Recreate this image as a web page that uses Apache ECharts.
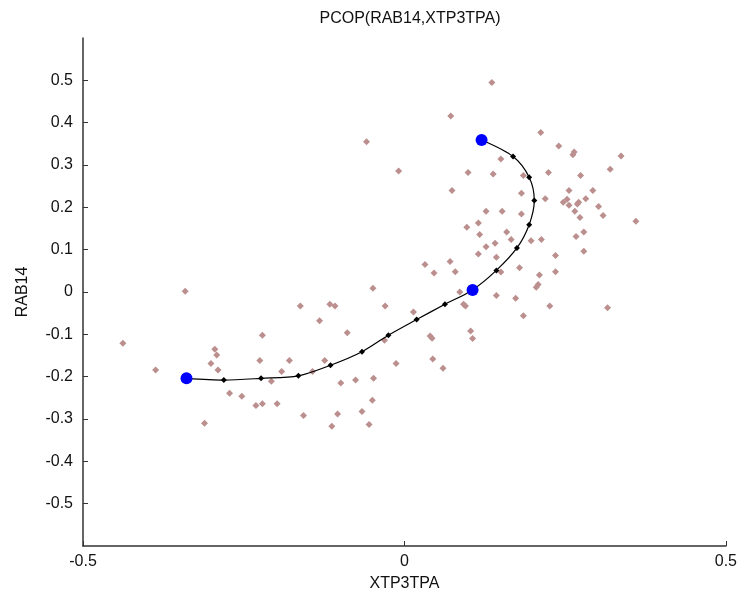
<!DOCTYPE html>
<html>
<head>
<meta charset="utf-8">
<script src="https://cdn.jsdelivr.net/npm/echarts@6/dist/echarts.min.js"></script>
<style>
  html, body { margin: 0; padding: 0; background: #fff; }
  #main { width: 740px; height: 598px; }
</style>
</head>
<body>
<div id="main"></div>
<script>
// cloud of samples (XTP3TPA, RAB14)
var cloudX = [-0.059, -0.009, -0.341, -0.049, 0.136, 0.072, 0.212, 0.240, 0.264, 0.262,
  0.337, 0.150, 0.320, 0.099, 0.138, 0.185, 0.224, 0.274, 0.074, 0.182,
  0.256, 0.293, 0.219, 0.247, 0.253, 0.256, 0.269, 0.271, 0.282, 0.265,
  0.302, 0.309, 0.360, 0.127, 0.152, 0.182, 0.273, 0.097, 0.115, 0.117,
  0.159, 0.166, 0.141, 0.127, 0.197, 0.213, 0.267, 0.279, 0.115, 0.143,
  0.279, 0.235, 0.071, 0.032, 0.046, 0.079, 0.179, 0.235, 0.210, 0.208,
  0.205, 0.086, 0.143, 0.173, 0.092, 0.095, 0.226, 0.185, 0.316, 0.014,
  0.040, 0.043, 0.103, 0.106, 0.044, 0.060, -0.438, -0.387, -0.295, -0.292,
  -0.301, -0.290, -0.221, -0.225, -0.179, -0.191, -0.207, -0.272, -0.253, -0.311,
  -0.231, -0.221, -0.198, -0.162, -0.132, -0.116, -0.108, -0.030, -0.089, -0.124,
  -0.143, -0.099, -0.076, -0.048, -0.050, -0.066, -0.055, -0.104, -0.113, -0.157,
  -0.031, -0.013, 0.150];
var cloudY = [0.355, 0.286, 0.002, 0.009, 0.495, 0.416, 0.377, 0.345, 0.331, 0.324,
  0.321, 0.314, 0.290, 0.282, 0.279, 0.275, 0.282, 0.275, 0.240, 0.233,
  0.240, 0.240, 0.220, 0.212, 0.219, 0.205, 0.208, 0.212, 0.220, 0.191,
  0.202, 0.181, 0.167, 0.191, 0.191, 0.184, 0.176, 0.153, 0.163, 0.136,
  0.142, 0.124, 0.115, 0.107, 0.121, 0.124, 0.131, 0.142, 0.090, 0.082,
  0.096, 0.086, 0.072, 0.065, 0.045, 0.048, 0.057, 0.048, 0.040, 0.018,
  0.011, 0.000, -0.008, -0.015, -0.029, -0.033, -0.033, -0.056, -0.037, -0.047,
  -0.104, -0.109, -0.092, -0.110, -0.158, -0.180, -0.121, -0.184, -0.135, -0.149,
  -0.169, -0.184, -0.102, -0.162, -0.162, -0.188, -0.211, -0.239, -0.246, -0.310,
  -0.268, -0.264, -0.264, -0.033, -0.068, -0.029, -0.033, -0.033, -0.096, -0.162,
  -0.188, -0.215, -0.208, -0.204, -0.256, -0.282, -0.313, -0.288, -0.317, -0.292,
  -0.114, -0.169, 0.047];

// principal curve
var curveX = [-0.339, -0.281, -0.223, -0.165, -0.115, -0.066, -0.025, 0.019, 0.063,
  0.106, 0.143, 0.175, 0.194, 0.202, 0.194, 0.169, 0.120];
var curveY = [-0.204, -0.208, -0.204, -0.198, -0.173, -0.141, -0.102, -0.065, -0.029,
  0.005, 0.051, 0.104, 0.159, 0.216, 0.271, 0.320, 0.359];

// highlighted nodes (ends + middle)
var nodeX = [-0.339, 0.106, 0.120];
var nodeY = [-0.204, 0.005, 0.359];

function pairs(xs, ys) {
  var out = [];
  for (var i = 0; i < xs.length; i++) out.push([xs[i], ys[i]]);
  return out;
}

var font = 'Liberation Sans';
var chart = echarts.init(document.getElementById('main'));
var option = {
  animation: false,
  title: {
    text: 'PCOP(RAB14,XTP3TPA)',
    left: 405,
    top: 6,
    textAlign: 'center',
    textStyle: { fontFamily: font, fontSize: 16, fontWeight: 'normal', color: '#111' }
  },
  grid: { left: 83, right: 13, top: 38, bottom: 52 },
  xAxis: {
    type: 'value',
    min: -0.5,
    max: 0.5,
    interval: 0.5,
    name: 'XTP3TPA',
    nameLocation: 'middle',
    nameGap: 30,
    nameTextStyle: { fontFamily: font, fontSize: 16, color: '#111' },
    axisLine: { show: true, onZero: false, lineStyle: { color: '#333', width: 1.5 } },
    axisTick: { show: true, inside: true, length: 5, lineStyle: { color: '#333' } },
    axisLabel: { fontFamily: font, fontSize: 16, color: '#111', margin: 8 },
    splitLine: { show: false }
  },
  yAxis: {
    type: 'value',
    min: -0.6,
    max: 0.6,
    interval: 0.1,
    name: 'RAB14',
    nameLocation: 'middle',
    nameGap: 52,
    nameTextStyle: { fontFamily: font, fontSize: 16, color: '#111' },
    axisLine: { show: true, onZero: false, lineStyle: { color: '#333', width: 1.5 } },
    axisTick: { show: true, inside: true, length: 5, lineStyle: { color: '#333' } },
    axisLabel: {
      fontFamily: font, fontSize: 16, color: '#111', margin: 10,
      showMinLabel: false, showMaxLabel: false,
      formatter: function (v) { return String(Math.round(v * 10) / 10); }
    },
    splitLine: { show: false }
  },
  series: [{
    type: 'scatter',
    symbol: 'diamond',
    symbolSize: 7,
    itemStyle: { color: '#bc8f8f', opacity: 1 },
    data: pairs(cloudX, cloudY),
    z: 2
  }, {
    type: 'line',
    smooth: 0.3,
    symbol: 'diamond',
    symbolSize: 6,
    showAllSymbol: true,
    lineStyle: { color: '#000', width: 1.2 },
    itemStyle: { color: '#000' },
    data: pairs(curveX, curveY),
    z: 3
  }, {
    type: 'scatter',
    symbol: 'circle',
    symbolSize: 12,
    itemStyle: { color: '#0000ff', opacity: 1 },
    data: pairs(nodeX, nodeY),
    z: 4
  }]
};
chart.setOption(option);
</script>
</body>
</html>
